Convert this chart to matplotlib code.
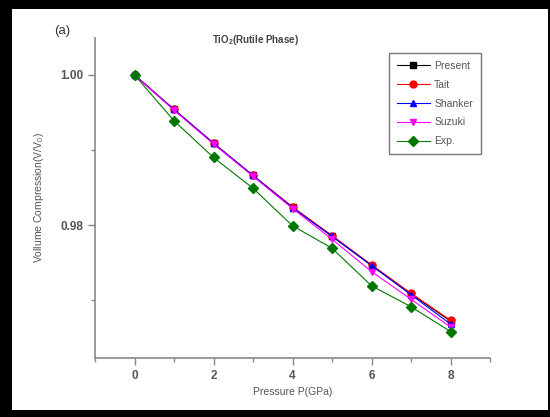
"""
TiO2 (rutile) volume compression vs pressure: EOS models against experiment
"""
import matplotlib
matplotlib.use("Agg")
import matplotlib.pyplot as plt
from matplotlib.patches import Rectangle
from matplotlib.ticker import MultipleLocator

plt.rcParams['font.family'] = ['Liberation Sans', 'DejaVu Sans']
plt.rcParams['mathtext.fontset'] = 'custom'
plt.rcParams['mathtext.rm'] = 'Liberation Sans'
plt.rcParams['mathtext.bf'] = 'Liberation Sans:bold'

# pressure (GPa)
pressure = [0, 1, 2, 3, 4, 5, 6, 7, 8]

# V/V0 for each model
present = [1.0000, 0.9954, 0.9909, 0.9866, 0.9824, 0.9785, 0.9746, 0.9708, 0.9672]
tait    = [1.0000, 0.9954, 0.9909, 0.9866, 0.9824, 0.9786, 0.9747, 0.9709, 0.9673]
shanker = [1.0000, 0.9954, 0.9909, 0.9866, 0.9823, 0.9785, 0.9746, 0.9707, 0.9668]
suzuki  = [1.0000, 0.9953, 0.9908, 0.9865, 0.9822, 0.9781, 0.9738, 0.9701, 0.9664]
exp     = [1.0000, 0.9939, 0.9890, 0.9849, 0.9799, 0.9769, 0.9719, 0.9691, 0.9658]

series = [
    ("Present", present, 'black', 's'),
    ("Tait", tait, 'red', 'o'),
    ("Shanker", shanker, 'blue', '^'),
    ("Suzuki", suzuki, 'magenta', 'v'),
    ("Exp.", exp, '#007800', 'D'),
]

fig = plt.figure(figsize=(5.5, 4.17), dpi=100)
fig.patch.set_facecolor('black')
# white page inside the black frame
fig.patches.append(Rectangle((12 / 550, 7 / 417), 536 / 550, 401 / 417,
                             transform=fig.transFigure, facecolor='white',
                             edgecolor='none', zorder=-1))

ax = fig.add_axes([95 / 550, 59 / 417, 395 / 550, 320 / 417])
ax.set_facecolor('white')

for name, vals, col, mk in series:
    ax.plot(pressure, vals, color=col, marker=mk, markersize=5, linewidth=0.8,
            label=name)

ax.set_xlim(-1, 9)
ax.set_ylim(0.96227, 1.00493)
ax.xaxis.set_major_locator(MultipleLocator(2))
ax.xaxis.set_minor_locator(MultipleLocator(1))
ax.yaxis.set_major_locator(MultipleLocator(0.02))
ax.yaxis.set_minor_locator(MultipleLocator(0.01))
ax.yaxis.set_major_formatter(matplotlib.ticker.FormatStrFormatter('%.2f'))

for side in ('top', 'right'):
    ax.spines[side].set_visible(False)
for side in ('left', 'bottom'):
    ax.spines[side].set_color('#888888')
    ax.spines[side].set_linewidth(1.2)

ax.tick_params(which='major', direction='out', length=5, width=1, color='#888888',
               labelsize=8.5, labelcolor='#555555')
ax.tick_params(which='minor', direction='out', length=3, width=1, color='#888888')
for lbl in ax.get_xticklabels() + ax.get_yticklabels():
    lbl.set_fontweight('bold')

ax.set_xlabel('Pressure P(GPa)', fontsize=7.5, color='#555555', labelpad=4)
ax.set_ylabel('Vollume Compression(V/V$_0$)', fontsize=7.5, color='#555555', labelpad=10)

fig.text(256 / 550, 1 - 40 / 417, r'TiO$_{\mathbf{2}}$(Rutile Phase)', fontsize=7,
         fontweight='bold', color='#444444', ha='center', va='center')
fig.text(62 / 550, 1 - 31 / 417, '(a)', fontsize=9.5, color='#333333',
         ha='center', va='center')

leg = ax.legend(loc='upper left', bbox_to_anchor=(389 / 550, 1 - 53 / 417),
                bbox_transform=fig.transFigure, borderaxespad=0, fancybox=False,
                fontsize=7.5, handlelength=3.2, handletextpad=0.4, labelspacing=0.85,
                borderpad=0.75, framealpha=1)
leg.get_frame().set_edgecolor('#777777')
leg.get_frame().set_linewidth(1.0)
for t in leg.get_texts():
    t.set_color('#555555')

fig.savefig('out.png', dpi=100, facecolor=fig.get_facecolor())
